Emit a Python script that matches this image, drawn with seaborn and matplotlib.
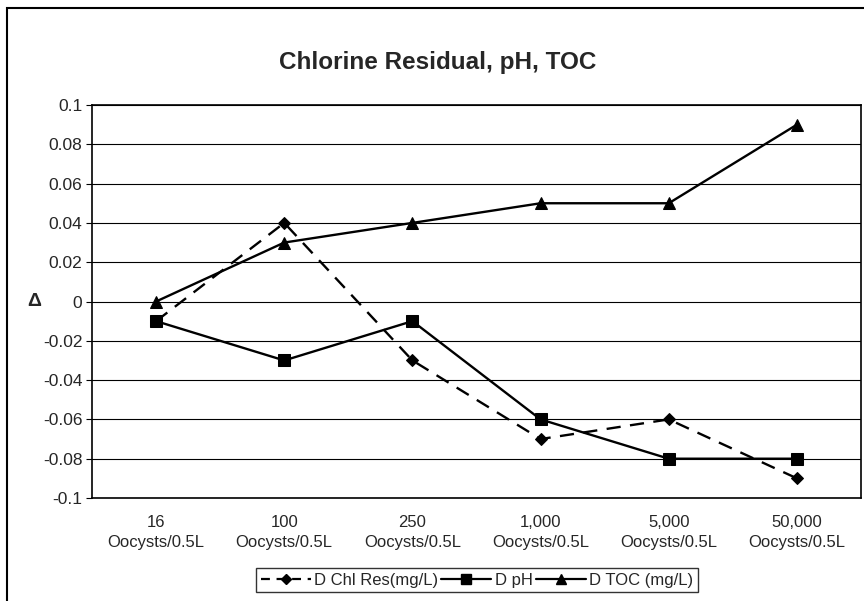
import matplotlib
matplotlib.use("Agg")
import matplotlib.pyplot as plt
import seaborn as sns
import pandas as pd
from matplotlib.patches import Rectangle
from matplotlib.lines import Line2D

categories = ["16\nOocysts/0.5L", "100\nOocysts/0.5L", "250\nOocysts/0.5L",
              "1,000\nOocysts/0.5L", "5,000\nOocysts/0.5L", "50,000\nOocysts/0.5L"]
chl_res = [-0.01, 0.04, -0.03, -0.07, -0.06, -0.09]
ph = [-0.01, -0.03, -0.01, -0.06, -0.08, -0.08]
toc = [0.0, 0.03, 0.04, 0.05, 0.05, 0.09]
series_names = ["D Chl Res(mg/L)", "D pH", "D TOC (mg/L)"]
yticks = [-0.1, -0.08, -0.06, -0.04, -0.02, 0, 0.02, 0.04, 0.06, 0.08, 0.1]
ytick_labels = ["-0.1", "-0.08", "-0.06", "-0.04", "-0.02", "0", "0.02", "0.04", "0.06", "0.08", "0.1"]

sns.set_theme(style="white")
plt.rcParams['font.family'] = ['Liberation Sans', 'DejaVu Sans']

fig = plt.figure(figsize=(8.64, 6.01), dpi=100)
ax = fig.add_axes([92/864, 1-498/601, (861-92)/864, (498-105)/601])

xpos = list(range(len(categories)))
styles = [
    dict(data=chl_res, marker="D", ls=(0, (6, 4)), ms=6),
    dict(data=ph, marker="s", ls="-", ms=8),
    dict(data=toc, marker="^", ls="-", ms=8),
]
handles = []
for name, st in zip(series_names, styles):
    df = pd.DataFrame({"x": xpos, "y": st["data"]})
    sns.lineplot(data=df, x="x", y="y", ax=ax, color="black", linewidth=1.7,
                 marker=st["marker"], markersize=st["ms"], markeredgecolor="black",
                 markerfacecolor="black", linestyle=st["ls"], legend=False)
    handles.append(Line2D([], [], color="black", linewidth=1.6,
                          linestyle=(0, (4, 3)) if st["ls"] != "-" else "-",
                          marker=st["marker"], markersize=st["ms"] - 1))

ax.set_xlim(-0.5, len(categories) - 0.5)
ax.set_ylim(-0.1, 0.1)
ax.set_xticks(xpos)
ax.set_xticklabels(categories, fontsize=12, linespacing=1.45)
ax.set_yticks(yticks)
ax.set_yticklabels(ytick_labels, fontsize=12.5)
ax.tick_params(axis="x", length=0, pad=12)
ax.tick_params(axis="y", length=4, width=0.8, color="black", direction="out", left=True, pad=3)
ax.yaxis.grid(True, color="black", linewidth=0.8)
ax.xaxis.grid(False)
for s in ax.spines.values():
    s.set_color("black")
    s.set_linewidth(1.2)
ax.set_xlabel("")
ax.set_ylabel("Δ", rotation=0, fontsize=14, fontweight="bold", va="center")
ax.yaxis.set_label_coords(-0.075, 0.5)

fig.text(438/864, 1-62/601, "Chlorine Residual, pH, TOC", ha="center", va="center",
         fontsize=17.5, fontweight="bold")

leg = fig.legend(handles, series_names, loc="center", bbox_to_anchor=(477/864, 1-580/601),
                 ncol=3, frameon=True, fontsize=12, handlelength=3.0, columnspacing=0.2,
                 handletextpad=0.2, borderpad=0.25, borderaxespad=0, fancybox=False)
leg.get_frame().set_edgecolor("black")
leg.get_frame().set_linewidth(1.0)

fig.patches.append(Rectangle((7/864, -0.05), 1.1, 1 - 8/601 + 0.05, transform=fig.transFigure,
                             fill=False, edgecolor="black", linewidth=1.5))

fig.savefig("out.png", dpi=100)
